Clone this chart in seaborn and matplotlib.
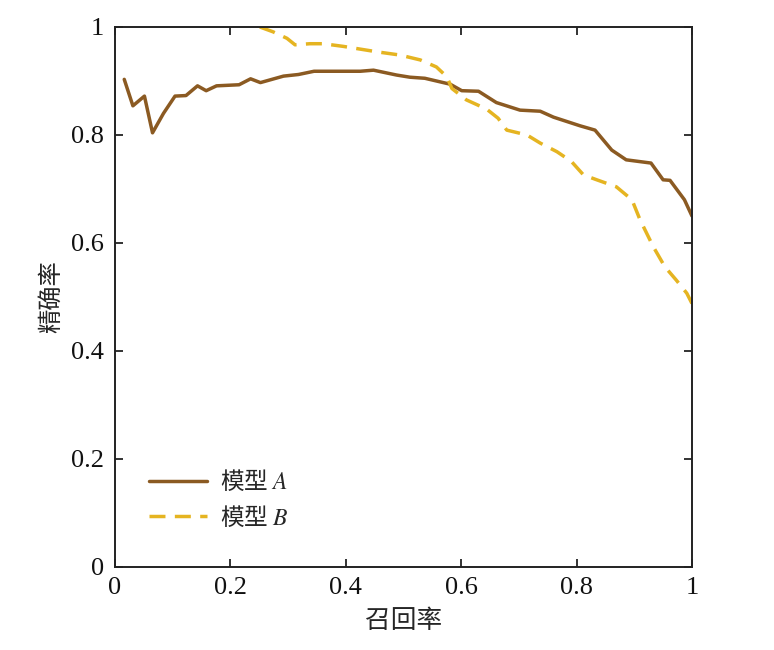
import numpy as np
import pandas as pd
import matplotlib
matplotlib.use("Agg")
import matplotlib.pyplot as plt
import seaborn as sns

# ---- data ----
recall_a = [0.016, 0.031, 0.051, 0.065, 0.084, 0.104, 0.123, 0.143, 0.158, 0.176,
            0.215, 0.235, 0.252, 0.292, 0.318, 0.345, 0.425, 0.448, 0.488, 0.511,
            0.537, 0.581, 0.601, 0.630, 0.661, 0.702, 0.737, 0.760, 0.806, 0.832,
            0.861, 0.886, 0.929, 0.950, 0.962, 0.987, 1.000]
precision_a = [0.903, 0.854, 0.872, 0.804, 0.840, 0.872, 0.873, 0.891, 0.882, 0.891,
               0.893, 0.904, 0.897, 0.909, 0.912, 0.918, 0.918, 0.920, 0.911, 0.907,
               0.905, 0.894, 0.882, 0.881, 0.860, 0.846, 0.844, 0.833, 0.817, 0.809,
               0.772, 0.754, 0.748, 0.717, 0.716, 0.680, 0.650]

recall_b = [0.251, 0.274, 0.298, 0.312, 0.338, 0.361, 0.396, 0.454, 0.494, 0.529,
            0.557, 0.575, 0.584, 0.609, 0.644, 0.664, 0.679, 0.714, 0.737, 0.766,
            0.791, 0.812, 0.835, 0.869, 0.896, 0.910, 0.933, 0.953, 0.973, 0.991, 1.000]
precision_b = [1.000, 0.991, 0.979, 0.967, 0.969, 0.969, 0.964, 0.954, 0.948, 0.939,
               0.926, 0.908, 0.886, 0.865, 0.848, 0.831, 0.809, 0.800, 0.785, 0.769,
               0.751, 0.726, 0.717, 0.704, 0.680, 0.643, 0.593, 0.556, 0.531, 0.507, 0.488]

labels = ["模型 $\\mathit{A}$", "模型 $\\mathit{B}$"]
xticks = [0, 0.2, 0.4, 0.6, 0.8, 1]
xticklabels = ["0", "0.2", "0.4", "0.6", "0.8", "1"]
yticks = [0, 0.2, 0.4, 0.6, 0.8, 1]
yticklabels = ["0", "0.2", "0.4", "0.6", "0.8", "1"]

sns.set_style("ticks")
plt.rcParams["font.family"] = ["Liberation Serif", "Noto Sans CJK SC"]
plt.rcParams["mathtext.fontset"] = "stix"

fig = plt.figure(figsize=(7.74, 6.5), dpi=100)
ax = fig.add_axes([0.1486, 0.1277, 0.894 - 0.1486, 0.9585 - 0.1277])

df_a = pd.DataFrame({"recall": recall_a, "precision": precision_a})
df_b = pd.DataFrame({"recall": recall_b, "precision": precision_b})

sns.lineplot(data=df_a, x="recall", y="precision", ax=ax, color="#8B5A22",
             linewidth=2.5, label=labels[0], estimator=None, sort=False)
sns.lineplot(data=df_b, x="recall", y="precision", ax=ax, color="#E5B421",
             linewidth=2.5, label=labels[1], estimator=None, sort=False,
             dashes=False)
ax.lines[1].set_dashes((4.6, 2.7))

ax.set_xlim(0, 1)
ax.set_ylim(0, 1)
ax.set_xticks(xticks)
ax.set_xticklabels(xticklabels)
ax.set_yticks(yticks)
ax.set_yticklabels(yticklabels)
ax.tick_params(direction="in", top=True, right=True, length=6, width=1.2,
               labelsize=19, colors="#111111")
ax.tick_params(axis="y", pad=8)
ax.tick_params(axis="x", pad=7)
for s in ax.spines.values():
    s.set_linewidth(1.4)
    s.set_color("#222222")

ax.set_xlabel("召回率", fontsize=18.5, labelpad=7, family=["Noto Sans CJK SC"])
ax.set_ylabel("精确率", fontsize=17.5, labelpad=5, family=["Noto Sans CJK SC"])

leg = ax.legend(loc="lower left", bbox_to_anchor=(0.022, 0.03), frameon=False,
                fontsize=17, handlelength=2.45, handletextpad=0.55, labelspacing=0.45)
for t in leg.get_texts():
    t.set_fontfamily(["Noto Sans CJK SC"])

fig.savefig("out.png", dpi=100)
